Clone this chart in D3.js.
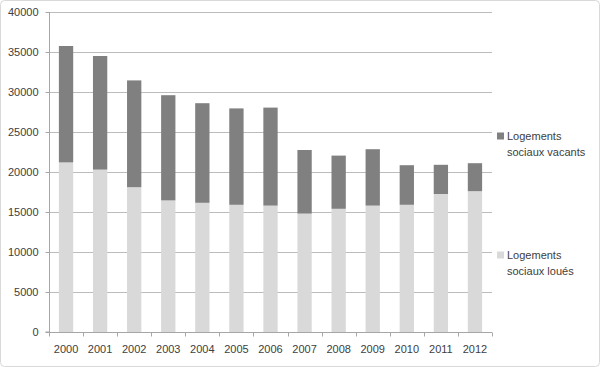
<!DOCTYPE html>
<html>
<head>
<meta charset="utf-8">
<script src="https://cdn.jsdelivr.net/npm/d3@7"></script>
<style>
html,body{margin:0;padding:0;background:#fff;}
svg{display:block;}
text{font-family:"Liberation Sans",Arial,sans-serif;font-size:11px;fill:#404040;}
</style>
</head>
<body>
<svg id="chart" width="600" height="367"></svg>
<script>
const years = ["2000","2001","2002","2003","2004","2005","2006","2007","2008","2009","2010","2011","2012"];
const loues = [21200,20300,18100,16450,16150,15900,15800,14800,15400,15800,15900,17250,17600];
const vacants = [14550,14200,13350,13150,12450,12050,12250,7950,6650,7050,4950,3650,3500];
const seriesNames = ["Logements sociaux loués","Logements sociaux vacants"];
const yTicks = [0,5000,10000,15000,20000,25000,30000,35000,40000];

const svg = d3.select("#chart");
const W = 600, H = 367;
const margin = {left:49, right:108, top:12, bottom:35};

svg.append("rect").attr("x",0.5).attr("y",0.5).attr("width",W-1).attr("height",H-1)
  .attr("rx",4).attr("fill","#fff").attr("stroke","#d9d9d9");

const x = d3.scaleBand().domain(years).range([margin.left, W-margin.right]).paddingInner(0.58).paddingOuter(0.29);
const y = d3.scaleLinear().domain([0,40000]).range([H-margin.bottom, margin.top]);

// gridlines
svg.append("g").selectAll("line").data(yTicks.filter(d=>d>0)).join("line")
  .attr("x1",margin.left).attr("x2",W-margin.right)
  .attr("y1",d=>Math.round(y(d))+0.5).attr("y2",d=>Math.round(y(d))+0.5)
  .attr("stroke","#bcbcbc");

// stacked bars
const rows = years.map((yr,i)=>({year:yr, loues:loues[i], vacants:vacants[i]}));
const stack = d3.stack().keys(["loues","vacants"])(rows);
const colors = {loues:"#d9d9d9", vacants:"#808080"};
svg.append("g").selectAll("g").data(stack).join("g")
  .attr("fill",d=>colors[d.key])
  .selectAll("rect").data(d=>d).join("rect")
  .attr("x",d=>x(d.data.year)).attr("width",x.bandwidth())
  .attr("y",d=>y(d[1])).attr("height",d=>y(d[0])-y(d[1]));

// y axis
const yAxis = d3.axisLeft(y).tickValues(yTicks).tickSize(4).tickPadding(7).tickFormat(d3.format("d"));
const gy = svg.append("g").attr("transform",`translate(${margin.left+0.5},0)`).call(yAxis);
gy.select(".domain").attr("stroke","#a6a6a6").attr("d",`M-4,${y(0)}H0V${y(40000)}`);
gy.selectAll(".tick line").attr("stroke","#a6a6a6");
gy.selectAll("text").style("font-size","11px").attr("fill","#404040");

// x axis
const gx = svg.append("g").attr("transform",`translate(0,${Math.round(y(0))+0.5})`);
gx.append("line").attr("x1",margin.left).attr("x2",W-margin.right).attr("stroke","#a6a6a6");
const step = x.step();
const bounds = d3.range(years.length+1).map(i=>margin.left + i*( (W-margin.right-margin.left)/years.length));
gx.selectAll(".tk").data(bounds).join("line").attr("class","tk")
  .attr("x1",d=>Math.round(d)+0.5).attr("x2",d=>Math.round(d)+0.5).attr("y1",0).attr("y2",4)
  .attr("stroke","#a6a6a6");
gx.selectAll("text").data(years).join("text")
  .attr("x",d=>x(d)+x.bandwidth()/2).attr("y",20).attr("text-anchor","middle")
  .text(d=>d);

// legend
const legend = [
  {key:"vacants", lines:["Logements","sociaux vacants"], y:136},
  {key:"loues", lines:["Logements","sociaux loués"], y:255}
];
const lg = svg.append("g");
legend.forEach(l=>{
  lg.append("rect").attr("x",497).attr("y",l.y-3.5).attr("width",7).attr("height",7).attr("fill",colors[l.key]);
  l.lines.forEach((t,i)=>{
    lg.append("text").attr("x",507).attr("y",l.y+i*16).attr("dy","0.35em").text(t);
  });
});
</script>
</body>
</html>
